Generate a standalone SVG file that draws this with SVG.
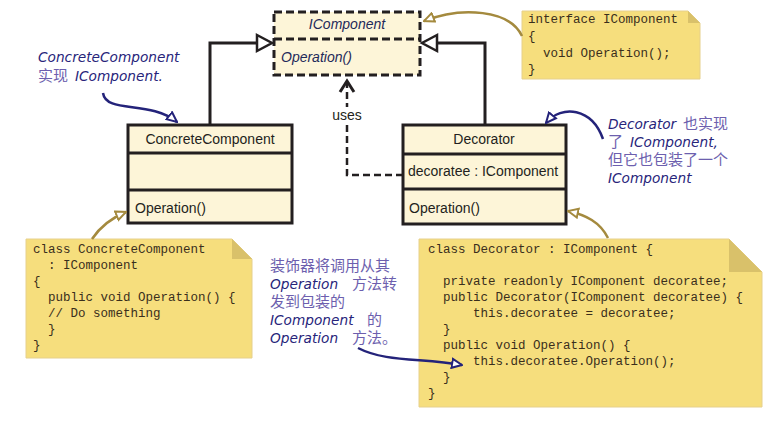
<svg xmlns="http://www.w3.org/2000/svg" width="779" height="425" viewBox="0 0 779 425">
<style>
.box{fill:#fdf5d8;stroke:#231f20;stroke-width:3}
.line{fill:none;stroke:#231f20;stroke-width:3}
.cls{font-family:"Liberation Sans",Arial,sans-serif;font-size:14px;fill:#231f20}
.it{font-style:italic;fill:#1f2a5a}
.note{fill:#f6de7d;stroke:#e6d08c;stroke-width:1}
.fold{fill:#d9c16a}
.code{font-family:"Liberation Mono","Courier New",monospace;font-size:12.5px;fill:#3a2e1c}
.hw{font-family:"DejaVu Sans",sans-serif;font-style:italic;font-size:13.7px;fill:#27247a}
.cjk{font-family:"Noto Sans CJK SC",sans-serif;font-size:15px;fill:#6d5fae}
.blue{fill:none;stroke:#24237a;stroke-width:2.5}
.brown{fill:none;stroke:#a48a3e;stroke-width:2.5}
</style>
<defs>
<marker id="ab" markerUnits="userSpaceOnUse" markerWidth="12" markerHeight="12" viewBox="0 0 12 12" refX="11" refY="6" orient="auto">
<path d="M1,1.5 L11,6 L1,10.5 z" fill="#fff" stroke="#24237a" stroke-width="2"/>
</marker>
<marker id="ar" markerUnits="userSpaceOnUse" markerWidth="12" markerHeight="12" viewBox="0 0 12 12" refX="11" refY="6" orient="auto">
<path d="M1,1.5 L11,6 L1,10.5 z" fill="#fff" stroke="#a48a3e" stroke-width="2"/>
</marker>
</defs>
<rect width="779" height="425" fill="#fff"/>

<g id="IComponent">
<rect x="274" y="12" width="146" height="63" fill="#fdf5d8" stroke="#231f20" stroke-width="3" stroke-dasharray="8,4"/>
<line x1="274" y1="39" x2="420" y2="39" stroke="#231f20" stroke-width="3" stroke-dasharray="8,4"/>
<text class="cls it" x="347" y="29" text-anchor="middle">IComponent</text>
<text class="cls it" x="281" y="62">Operation()</text>
</g>

<g id="ConcreteComponent">
<rect class="box" x="128" y="125" width="164" height="98"/>
<line class="line" x1="128" y1="153" x2="292" y2="153"/>
<line class="line" x1="128" y1="190" x2="292" y2="190"/>
<text class="cls" x="210" y="144" text-anchor="middle">ConcreteComponent</text>
<text class="cls" x="135" y="213">Operation()</text>
</g>

<g id="Decorator">
<rect class="box" x="403" y="125" width="163" height="99"/>
<line class="line" x1="403" y1="154" x2="566" y2="154"/>
<line class="line" x1="403" y1="189" x2="566" y2="189"/>
<text class="cls" x="484" y="144" text-anchor="middle">Decorator</text>
<text class="cls" x="408" y="176">decoratee : IComponent</text>
<text class="cls" x="409" y="213">Operation()</text>
</g>

<g id="note-interface">
<path class="note" d="M522,11 H688 L700,23 V79 H522 Z"/>
<path class="fold" d="M688,11 V23 H700 Z"/>
<text class="code" x="528" y="23">interface IComponent</text>
<text class="code" x="528" y="40">{</text>
<text class="code" x="543" y="57">void Operation();</text>
<text class="code" x="528" y="73">}</text>
</g>

<g id="note-concrete">
<path class="note" d="M26,239 H232 L252,259 V358 H26 Z"/>
<path class="fold" d="M232,239 V259 H252 Z"/>
<text class="code" x="33" y="253">class ConcreteComponent</text>
<text class="code" x="48" y="269">: IComponent</text>
<text class="code" x="33" y="285">{</text>
<text class="code" x="48" y="301">public void Operation() {</text>
<text class="code" x="48" y="317">// Do something</text>
<text class="code" x="48" y="333">}</text>
<text class="code" x="33" y="349">}</text>
</g>

<g id="note-decorator">
<path class="note" d="M419,239 H729 L762,272 V407 H419 Z"/>
<path class="fold" d="M729,239 V272 H762 Z"/>
<text class="code" x="428" y="253">class Decorator : IComponent {</text>
<text class="code" x="443" y="285">private readonly IComponent decoratee;</text>
<text class="code" x="443" y="301">public Decorator(IComponent decoratee) {</text>
<text class="code" x="473" y="317">this.decoratee = decoratee;</text>
<text class="code" x="443" y="333">}</text>
<text class="code" x="443" y="349">public void Operation() {</text>
<text class="code" x="473" y="365">this.decoratee.Operation();</text>
<text class="code" x="443" y="381">}</text>
<text class="code" x="428" y="397">}</text>
</g>

<g id="annotation-concrete">
<text class="hw" x="38" y="62">ConcreteComponent</text>
<text class="cjk" x="38" y="81">实现</text>
<text class="hw" x="75" y="81">IComponent.</text>
</g>

<g id="annotation-decorator">
<text class="hw" x="608" y="129">Decorator</text>
<text class="cjk" x="683" y="129">也实现</text>
<text class="cjk" x="608" y="147">了</text>
<text class="hw" x="630" y="147">IComponent,</text>
<text class="cjk" x="608" y="165">但它也包装了一个</text>
<text class="hw" x="608" y="183">IComponent</text>
</g>

<g id="annotation-middle">
<text class="cjk" x="270" y="271">装饰器将调用从其</text>
<text class="hw" x="270" y="289">Operation</text>
<text class="cjk" x="352" y="289">方法转</text>
<text class="cjk" x="270" y="307">发到包装的</text>
<text class="hw" x="270" y="325">IComponent</text>
<text class="cjk" x="367" y="325">的</text>
<text class="hw" x="270" y="343">Operation</text>
<text class="cjk" x="352" y="343">方法。</text>
</g>

<g id="connectors">
<path class="line" d="M210,125 V43 H257"/>
<path d="M257,35 L272,43 L257,51 z" fill="#fff" stroke="#231f20" stroke-width="2.5"/>
<path class="line" d="M485,125 V43 H437"/>
<path d="M437,35 L422,43 L437,51 z" fill="#fff" stroke="#231f20" stroke-width="2.5"/>
<path d="M403,175 H347 V82" fill="none" stroke="#231f20" stroke-width="2.5" stroke-dasharray="7,4"/>
<path d="M340,92 L347,81 L354,92" fill="none" stroke="#231f20" stroke-width="3"/>
<rect x="330" y="107" width="34" height="17" fill="#fff"/>
<text class="cls" x="347" y="120" text-anchor="middle" font-size="13.5">uses</text>
<path class="brown" d="M522,36 C510,10 462,6 424,21" marker-end="url(#ar)"/>
<path class="brown" d="M92,239 Q104,221 126,212" marker-end="url(#ar)"/>
<path class="brown" d="M608,238 C600,222 586,215 568,211" marker-end="url(#ar)"/>
<path class="blue" d="M103,93 C106,114 150,100 177,122" marker-end="url(#ab)"/>
<path class="blue" d="M603,139 C592,108 562,104 546,123" marker-end="url(#ab)"/>
<path class="blue" d="M358,348 C385,362 420,358 462,365" marker-end="url(#ab)"/>
</g>
</svg>
